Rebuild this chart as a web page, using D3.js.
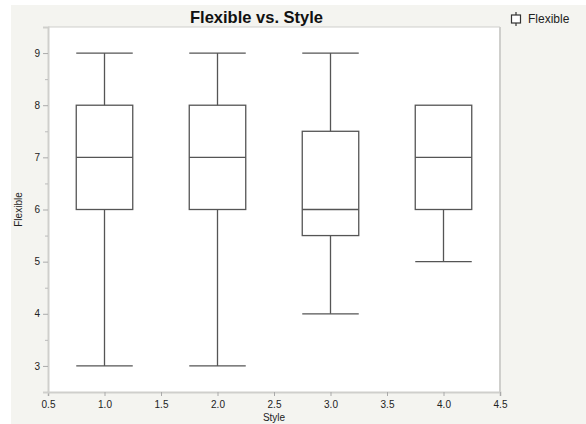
<!DOCTYPE html>
<html>
<head>
<meta charset="utf-8">
<script src="https://cdn.jsdelivr.net/npm/d3@7"></script>
<style>
  html, body { margin: 0; padding: 0; background: #ffffff; }
  svg { display: block; font-family: "Liberation Sans", Arial, Helvetica, sans-serif; }
</style>
</head>
<body>
<svg id="chart" width="586" height="424"></svg>
<script>
// Five-number summaries of Flexible for each Style group
const styles = [1, 2, 3, 4];
const whiskerLow = [3, 3, 4, 5];
const quartile1 = [6, 6, 5.5, 6];
const medians = [7, 7, 6, 7];
const quartile3 = [8, 8, 7.5, 8];
const whiskerHigh = [9, 9, 9, 8];

const xTicks = [0.5, 1.0, 1.5, 2.0, 2.5, 3.0, 3.5, 4.0, 4.5];
const yTicks = [3, 4, 5, 6, 7, 8, 9];
const yMinorTicks = [3.5, 4.5, 5.5, 6.5, 7.5, 8.5];

const chartTitle = "Flexible vs. Style";
const xTitle = "Style";
const yTitle = "Flexible";
const legendLabel = "Flexible";

const svg = d3.select("#chart");
const W = 586, H = 424;
const plot = { left: 48, top: 27, right: 500, bottom: 392 };
const strokeCol = "#555555";
const frameCol = "#cfcfcc";

// panel background
svg.append("rect").attr("x", 11).attr("y", 5).attr("width", W - 11).attr("height", H - 5)
  .attr("fill", "#f4f4f0");

const x = d3.scaleLinear().domain([0.5, 4.5]).range([plot.left, plot.right]);
const y = d3.scaleLinear().domain([2.5, 9.5]).range([plot.bottom, plot.top]);

// plot area
svg.append("rect").attr("x", plot.left).attr("y", plot.top)
  .attr("width", plot.right - plot.left).attr("height", plot.bottom - plot.top)
  .attr("fill", "#ffffff");

// frame
svg.append("line").attr("x1", plot.left).attr("x2", plot.right).attr("y1", plot.top).attr("y2", plot.top)
  .attr("stroke", frameCol).attr("stroke-width", 1);
svg.append("line").attr("x1", plot.right).attr("x2", plot.right).attr("y1", plot.top).attr("y2", plot.bottom)
  .attr("stroke", frameCol).attr("stroke-width", 2);

// axes
const xAxis = d3.axisBottom(x).tickValues(xTicks).tickFormat(d3.format(".1f")).tickSize(4).tickPadding(5);
const gx = svg.append("g").attr("transform", `translate(0,${plot.bottom})`).call(xAxis);
gx.select(".domain").attr("stroke", frameCol).attr("stroke-width", 2);
gx.selectAll(".tick line").attr("stroke", "#aaaaaa");
gx.selectAll(".tick text").attr("fill", "#222").style("font-size", "10px")
  .style("font-family", "Liberation Sans, Arial, sans-serif");

const yAxis = d3.axisLeft(y).tickValues(yTicks).tickFormat(d3.format("d")).tickSize(5).tickPadding(3);
const gy = svg.append("g").attr("transform", `translate(${plot.left},0)`).call(yAxis);
gy.select(".domain").attr("stroke", frameCol).attr("stroke-width", 2);
gy.selectAll(".tick line").attr("stroke", "#aaaaaa");
gy.selectAll(".tick text").attr("fill", "#222").style("font-size", "10px")
  .style("font-family", "Liberation Sans, Arial, sans-serif");

const yMinor = d3.axisLeft(y).tickValues(yMinorTicks).tickFormat("").tickSize(3);
const gym = svg.append("g").attr("transform", `translate(${plot.left},0)`).call(yMinor);
gym.select(".domain").remove();
gym.selectAll(".tick line").attr("stroke", "#bbbbbb");

// box plots
const boxes = styles.map((s, i) => ({
  s, lo: whiskerLow[i], q1: quartile1[i], med: medians[i], q3: quartile3[i], hi: whiskerHigh[i]
}));
const half = 0.25;
const g = svg.append("g").attr("stroke", strokeCol).attr("stroke-width", 1.3).attr("fill", "none");

boxes.forEach(b => {
  const cx = x(b.s), x0 = x(b.s - half), x1 = x(b.s + half);
  if (b.hi > b.q3) {
    g.append("line").attr("x1", cx).attr("x2", cx).attr("y1", y(b.q3)).attr("y2", y(b.hi));
    g.append("line").attr("x1", x0).attr("x2", x1).attr("y1", y(b.hi)).attr("y2", y(b.hi));
  }
  if (b.lo < b.q1) {
    g.append("line").attr("x1", cx).attr("x2", cx).attr("y1", y(b.q1)).attr("y2", y(b.lo));
    g.append("line").attr("x1", x0).attr("x2", x1).attr("y1", y(b.lo)).attr("y2", y(b.lo));
  }
  g.append("rect").attr("x", x0).attr("y", y(b.q3))
    .attr("width", x1 - x0).attr("height", y(b.q1) - y(b.q3));
  g.append("line").attr("x1", x0).attr("x2", x1).attr("y1", y(b.med)).attr("y2", y(b.med));
});

// titles
svg.append("text").attr("x", 190).attr("y", 23)
  .attr("font-size", 16.5).attr("font-weight", "bold").attr("fill", "#111")
  .text(chartTitle);
svg.append("text").attr("x", (plot.left + plot.right) / 2).attr("y", 421)
  .attr("text-anchor", "middle").attr("font-size", 10).attr("fill", "#222")
  .text(xTitle);
svg.append("text").attr("transform", `translate(22,${(plot.top + plot.bottom) / 2}) rotate(-90)`)
  .attr("text-anchor", "middle").attr("font-size", 10).attr("fill", "#222")
  .text(yTitle);

// legend
const lg = svg.append("g").attr("transform", "translate(516,19)");
lg.append("line").attr("x1", 0).attr("x2", 0).attr("y1", -7).attr("y2", 7)
  .attr("stroke", "#333").attr("stroke-width", 1.2);
lg.append("rect").attr("x", -4.5).attr("y", -4).attr("width", 9).attr("height", 8)
  .attr("fill", "#ffffff").attr("stroke", "#333").attr("stroke-width", 1.2);
lg.append("text").attr("x", 12).attr("y", 4).attr("font-size", 12).attr("fill", "#222")
  .text(legendLabel);
</script>
</body>
</html>
